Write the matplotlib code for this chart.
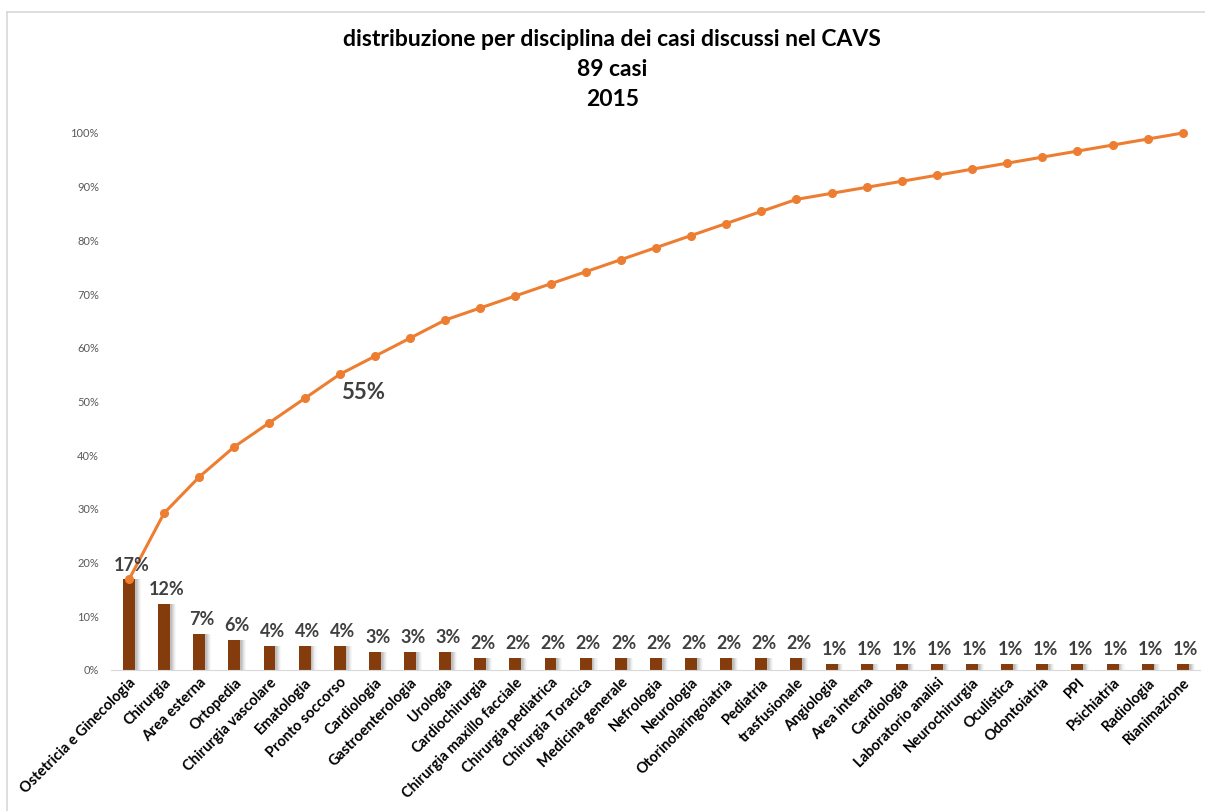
import matplotlib.pyplot as plt
import numpy as np
from matplotlib.lines import Line2D

plt.rcParams['font.family'] = ['Lato', 'DejaVu Sans']

discipline = ["Ostetricia e Ginecologia", "Chirurgia", "Area esterna", "Ortopedia",
              "Chirurgia vascolare", "Ematologia", "Pronto soccorso", "Cardiologia",
              "Gastroenterologia", "Urologia", "Cardiochirurgia",
              "Chirurgia maxillo facciale", "Chirurgia pediatrica", "Chirurgia Toracica",
              "Medicina generale", "Nefrologia", "Neurologia", "Otorinolaringoiatria",
              "Pediatria", "trasfusionale", "Angiologia", "Area interna", "Cardiologia",
              "Laboratorio analisi", "Neurochirurgia", "Oculistica", "Odontoiatria",
              "PPI", "Psichiatria", "Radiologia", "Rianimazione"]
casi = [15, 11, 6, 5, 4, 4, 4, 3, 3, 3, 2, 2, 2, 2, 2, 2, 2, 2, 2, 2,
        1, 1, 1, 1, 1, 1, 1, 1, 1, 1, 1]

totale = sum(casi)
quota = np.array(casi) / totale
cumulata = np.cumsum(casi) / totale

fig = plt.figure(figsize=(12.05, 8.11), dpi=100)
ax = fig.add_axes([111.4 / 1205, 1 - 670 / 811, 1089 / 1205, 537 / 811])

x = np.arange(len(discipline))

# ombra sfumata delle barre
for dx, a in [(0.16, 0.06), (0.13, 0.08), (0.10, 0.12), (0.07, 0.16), (0.04, 0.2)]:
    ax.bar(x + dx, quota, width=0.36, color='#7f7f7f', alpha=a, linewidth=0, zorder=1)
ax.bar(x, quota, width=0.34, color='#843C0C', linewidth=0, zorder=2)

ax.plot(x, cumulata, color='#ED7D31', linewidth=2.2, marker='o', markersize=5.5,
        zorder=3, clip_on=False)

# etichette percentuali sopra le barre
for xi, q in zip(x, quota):
    ax.text(xi + 0.08, q + 0.011, f"{q:.0%}", ha='center', va='bottom',
            fontsize=13, fontweight='bold', color='#404040', zorder=4)

ax.text(x[6] + 0.05, cumulata[6] - 0.015, f"{cumulata[6]:.0%}", ha='left', va='top',
        fontsize=16, fontweight='bold', color='#404040')

ax.set_xlim(-0.5, len(discipline) - 0.5)
ax.set_ylim(0, 1.0)
ax.set_yticks(np.arange(0, 1.01, 0.1))
ax.set_yticklabels([f"{v}%" for v in range(0, 101, 10)], fontsize=8, color='#595959')
ax.tick_params(axis='y', length=0, pad=9)
ax.tick_params(axis='x', length=0, pad=4)
ax.set_xticks(x)
ax.set_xticklabels(discipline, rotation=45, ha='right', rotation_mode='anchor',
                   fontsize=10.5, fontweight='bold', color='black')

for side in ['top', 'right', 'left']:
    ax.spines[side].set_visible(False)
ax.spines['bottom'].set_color('#d9d9d9')

fig.text(0.508, 1 - 40 / 811, "distribuzione per disciplina dei casi discussi nel CAVS",
         ha='center', va='center', fontsize=16.5, fontweight='bold')
fig.text(0.508, 1 - 70 / 811, f"{totale} casi", ha='center', va='center',
         fontsize=16.5, fontweight='bold')
fig.text(0.508, 1 - 100 / 811, "2015", ha='center', va='center',
         fontsize=16.5, fontweight='bold')

# cornice del grafico
fig.add_artist(Line2D([7 / 1205, 1], [1 - 12 / 811, 1 - 12 / 811], color='#d9d9d9',
                      linewidth=1.2, transform=fig.transFigure))
fig.add_artist(Line2D([7 / 1205, 7 / 1205], [0, 1 - 12 / 811], color='#d9d9d9',
                      linewidth=1.2, transform=fig.transFigure))

fig.savefig("out.png", dpi=100)
